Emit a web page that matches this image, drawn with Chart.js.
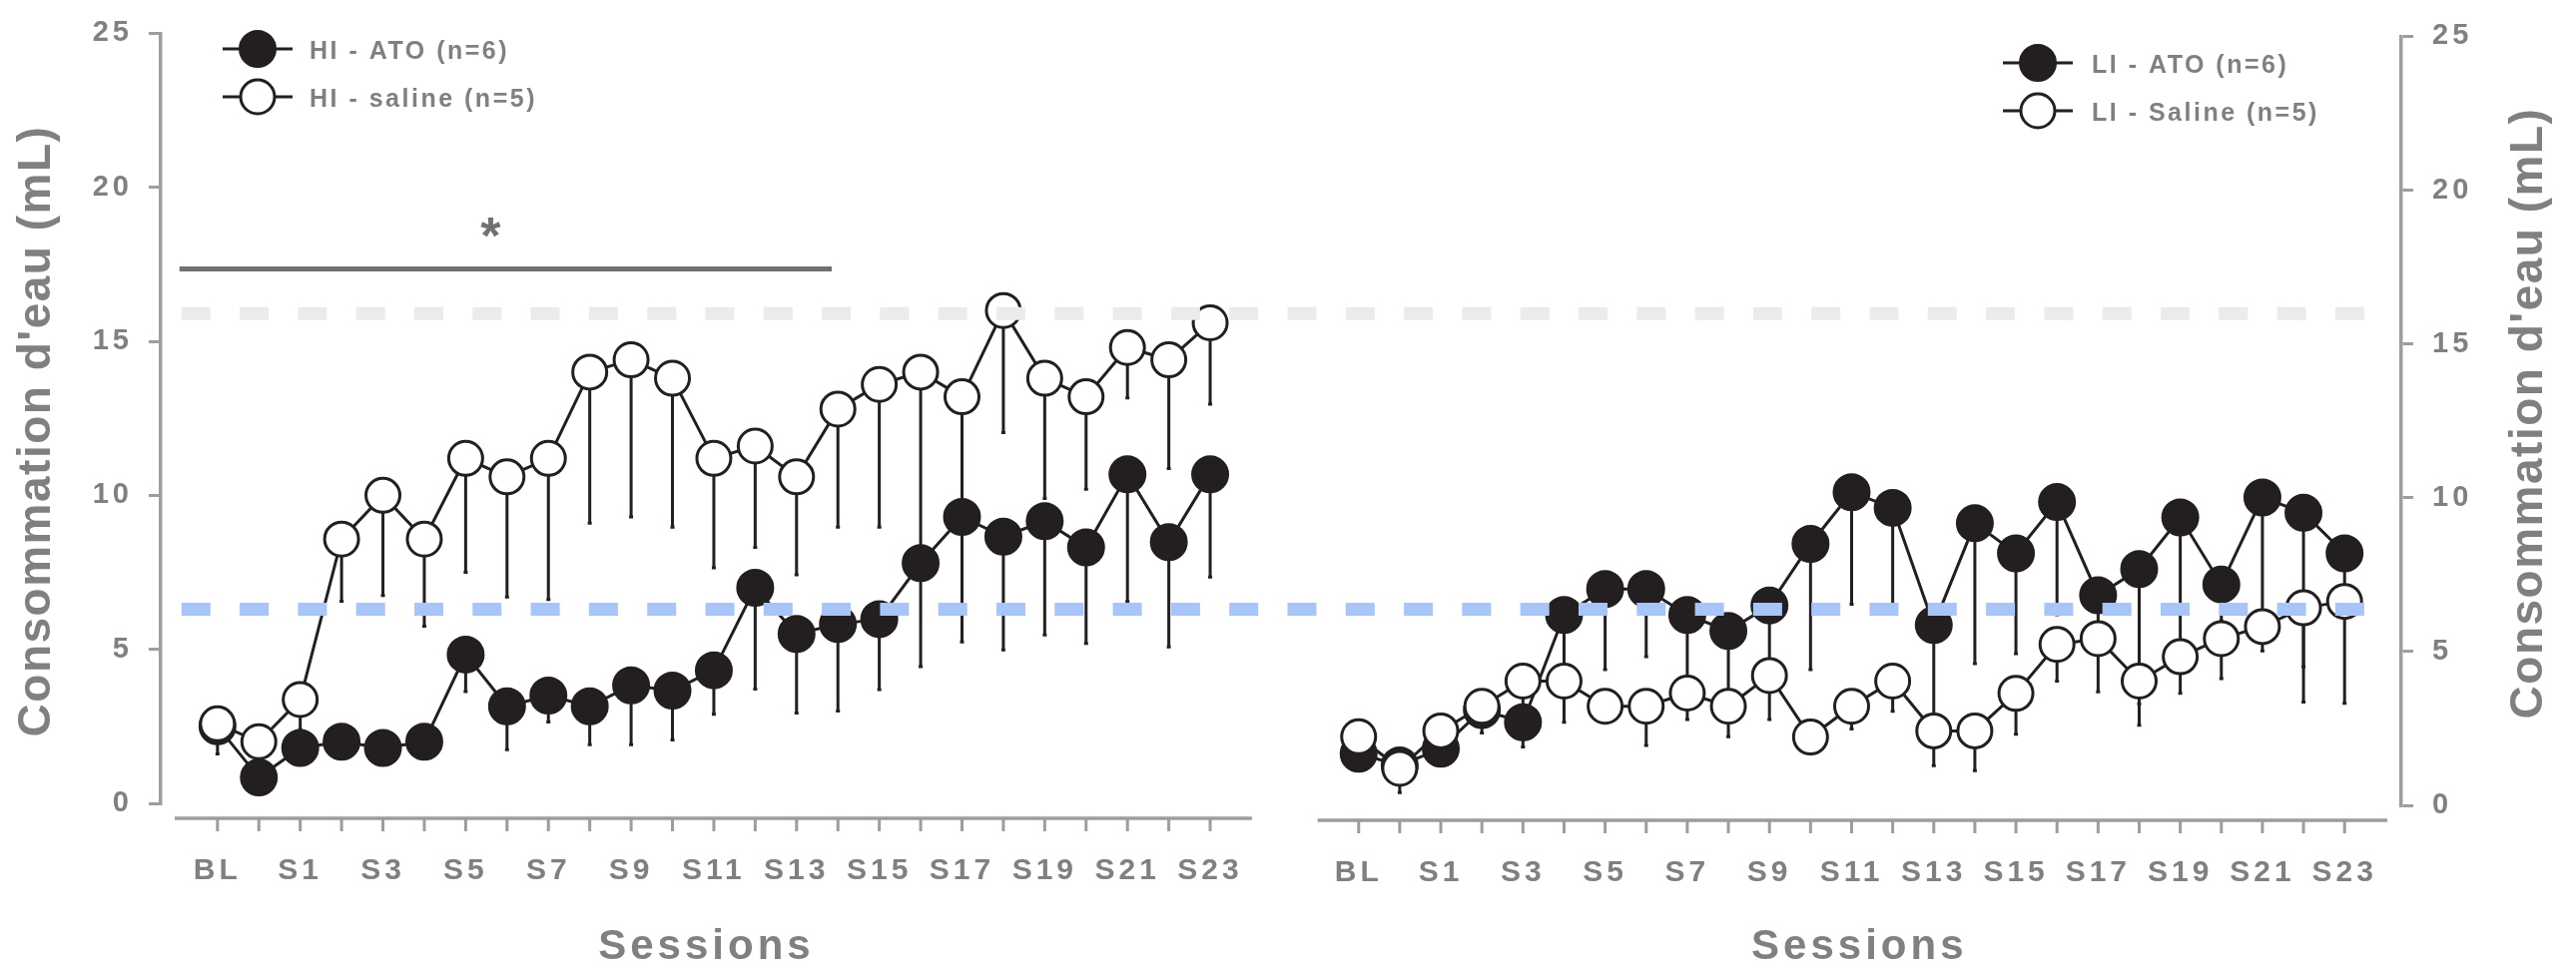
<!DOCTYPE html>
<html>
<head>
<meta charset="utf-8">
<title>Consommation d'eau</title>
<script src="https://cdn.jsdelivr.net/npm/chart.js@4.4.1/dist/chart.umd.min.js"></script>
<style>
  html, body { margin: 0; padding: 0; background: #ffffff; }
  #wrap { position: relative; width: 2580px; height: 970px; overflow: hidden; }
  #wrap canvas { position: absolute; top: 0; }
</style>
</head>
<body>
<div id="wrap">
  <canvas id="chartHI" width="1290" height="970" style="left:0"></canvas>
  <canvas id="chartLI" width="1290" height="970" style="left:1290px"></canvas>
</div>
<script>
// sessions (every other label is shown on the axis)
var sessions = ['BL', 'S0', 'S1', 'S2', 'S3', 'S4', 'S5', 'S6', 'S7', 'S8', 'S9', 'S10', 'S11',
                'S12', 'S13', 'S14', 'S15', 'S16', 'S17', 'S18', 'S19', 'S20', 'S21', 'S22', 'S23'];
var yTicks = [0, 5, 10, 15, 20, 25];

// HI groups: mean and lower end of the error bar (mL)
var hiAto        = [2.5, 0.84, 1.8, 2.0, 1.8, 2.0, 4.83, 3.15, 3.5, 3.15, 3.83, 3.66, 4.32, 7.0, 5.5, 5.82, 5.98, 7.8, 9.3, 8.66, 9.16, 8.31, 10.68, 8.48, 10.68];
var hiAtoLow     = [1.6, 0.84, 1.8, 2.0, 1.8, 2.0, 3.63, 1.74, 2.64, 1.9, 1.9, 2.06, 2.89, 3.71, 2.93, 3.0, 3.69, 4.44, 5.24, 4.98, 5.47, 5.19, 6.56, 5.08, 7.35];
var hiSaline     = [2.58, 2.0, 3.37, 8.58, 10.0, 8.58, 11.2, 10.6, 11.2, 14.0, 14.4, 13.8, 11.2, 11.6, 10.6, 12.8, 13.6, 14.0, 13.2, 16.0, 13.8, 13.2, 14.8, 14.4, 15.6];
var hiSalineLow  = [2.3, 1.5, 2.4, 6.56, 6.75, 5.75, 7.5, 6.7, 6.62, 9.1, 9.3, 8.97, 7.65, 8.31, 7.42, 8.97, 8.97, 8.2, 9.8, 12.04, 9.9, 10.2, 13.16, 10.87, 12.96];

// LI groups
var liAto        = [1.68, 1.3, 1.84, 3.1, 2.7, 6.19, 7.03, 7.03, 6.19, 5.67, 6.5, 8.5, 10.18, 9.67, 5.86, 9.17, 8.19, 9.86, 6.83, 7.68, 9.36, 7.18, 10.01, 9.51, 8.19];
var liAtoLow     = [1.68, 1.3, 1.84, 3.1, 1.9, 4.5, 4.41, 4.83, 4.0, 3.5, 4.5, 4.41, 6.54, 6.47, 2.9, 4.61, 4.93, 6.2, 5.5, 2.6, 5.0, 6.0, 6.3, 3.36, 6.8];
var liSaline     = [2.23, 1.2, 2.42, 3.22, 4.04, 4.04, 3.22, 3.22, 3.65, 3.22, 4.22, 2.22, 3.22, 4.04, 2.42, 2.42, 3.64, 5.23, 5.42, 4.04, 4.83, 5.42, 5.81, 6.42, 6.63];
var liSalineLow  = [2.23, 0.41, 2.42, 2.35, 3.2, 2.7, 3.22, 1.95, 2.79, 2.23, 2.79, 2.22, 2.48, 3.06, 1.29, 1.13, 2.31, 4.04, 3.69, 3.3, 3.64, 4.12, 5.02, 4.5, 3.32];

// reference levels and the significance bar (HI panel)
var refHigh = 15.9;
var refLow = 6.3;
var sigFrom = -0.92, sigTo = 14.85, sigLevel = 17.35, sigStarX = 6.6, sigStarLevel = 18.5;

var FONT = "'Liberation Sans', Arial, Helvetica, sans-serif";
var TEXT_GREY = '#808083';
var AXIS_GREY = '#9d9da0';
var INK = '#231f20';
var shared = {};   // reference line geometry shared between the two panels

function toPoints(values) {
    return values.map(function (v, i) { return { x: i, y: v }; });
}

function makeDataset(label, values, lower, filled) {
    return {
        label: label,
        data: toPoints(values),
        lower: lower,
        borderColor: INK,
        borderWidth: 3,
        pointRadius: filled ? 18 : 17,
        pointBorderWidth: filled ? 2 : 3,
        pointBackgroundColor: filled ? INK : '#ffffff',
        pointBorderColor: INK,
        tension: 0,
        fill: false,
        order: filled ? 1 : 0   // saline circles sit on top
    };
}

function dashedLine(ctx, x1, x2, y, color) {
    ctx.save();
    ctx.strokeStyle = color;
    ctx.lineWidth = 13;
    ctx.setLineDash([29, 29.3]);
    ctx.beginPath();
    ctx.moveTo(x1, y);
    ctx.lineTo(x2, y);
    ctx.stroke();
    ctx.restore();
}

var figurePlugin = {
    id: 'figure',
    beforeDraw: function (chart) {
        chart.ctx.letterSpacing = '4px';
    },
    beforeDatasetsDraw: function (chart) {
        // one-sided (downward) error bars
        var ctx = chart.ctx, y = chart.scales.y;
        ctx.save();
        ctx.strokeStyle = INK;
        ctx.lineWidth = 3;
        chart.data.datasets.forEach(function (ds, i) {
            chart.getDatasetMeta(i).data.forEach(function (pt, j) {
                var low = ds.lower[j];
                if (low >= ds.data[j].y) return;
                var yl = y.getPixelForValue(low);
                ctx.beginPath();
                ctx.moveTo(pt.x, pt.y);
                ctx.lineTo(pt.x, yl);
                ctx.moveTo(pt.x - 2, yl);
                ctx.lineTo(pt.x + 2, yl);
                ctx.stroke();
            });
        });
        ctx.restore();
    },
    afterDatasetsDraw: function (chart) {
        var ctx = chart.ctx, x = chart.scales.x, y = chart.scales.y;
        var p = chart.options.panel;
        if (p.refFrom !== null) {
            shared.start = x.getPixelForValue(p.refFrom) + p.offset;
            shared.yHigh = y.getPixelForValue(refHigh);
            shared.yLow = y.getPixelForValue(refLow);
        }
        var x1 = shared.start - p.offset;
        var x2 = p.refTo === null ? chart.width : x.getPixelForValue(p.refTo);
        dashedLine(ctx, x1, x2, shared.yHigh, '#ebebeb');
        dashedLine(ctx, x1, x2, shared.yLow, '#a7c5f9');
    },
    afterDraw: function (chart) {
        var ctx = chart.ctx, x = chart.scales.x, area = chart.chartArea;
        var p = chart.options.panel;
        ctx.save();
        ctx.letterSpacing = '0px';

        // detached x axis with tick marks
        var axisY = area.bottom + 15;
        ctx.strokeStyle = AXIS_GREY;
        ctx.lineWidth = 3.5;
        ctx.beginPath();
        ctx.moveTo(area.left + p.axisGapLeft, axisY);
        ctx.lineTo(area.right - p.axisGapRight, axisY);
        ctx.stroke();
        ctx.lineWidth = 3;
        ctx.beginPath();
        sessions.forEach(function (s, i) {
            var px = x.getPixelForValue(i);
            ctx.moveTo(px, axisY);
            ctx.lineTo(px, axisY + 13);
        });
        ctx.stroke();

        // significance bar and star
        if (p.showSig) {
            var y = chart.scales.y;
            ctx.strokeStyle = '#717173';
            ctx.lineWidth = 5;
            ctx.beginPath();
            ctx.moveTo(x.getPixelForValue(sigFrom), y.getPixelForValue(sigLevel));
            ctx.lineTo(x.getPixelForValue(sigTo), y.getPixelForValue(sigLevel));
            ctx.stroke();
            ctx.fillStyle = '#717173';
            ctx.font = 'bold 52px ' + FONT;
            ctx.textAlign = 'center';
            ctx.textBaseline = 'alphabetic';
            ctx.fillText('*', x.getPixelForValue(sigStarX), y.getPixelForValue(sigStarLevel) + 20);
        }

        // legend
        ctx.font = 'bold 25px ' + FONT;
        ctx.letterSpacing = '2.5px';
        ctx.textAlign = 'left';
        ctx.textBaseline = 'middle';
        chart.data.datasets.forEach(function (ds, i) {
            var cy = p.legend.y + i * p.legend.gap;
            var cx = p.legend.x;
            ctx.strokeStyle = INK;
            ctx.lineWidth = 3;
            ctx.beginPath();
            ctx.moveTo(cx - 35, cy);
            ctx.lineTo(cx + 35, cy);
            ctx.stroke();
            ctx.beginPath();
            ctx.arc(cx, cy, ds.pointRadius, 0, Math.PI * 2);
            ctx.fillStyle = ds.pointBackgroundColor;
            ctx.fill();
            ctx.lineWidth = ds.pointBorderWidth;
            ctx.stroke();
            ctx.fillStyle = TEXT_GREY;
            ctx.fillText(ds.label, p.legend.textX, cy + 3);
        });

        // y axis title
        ctx.translate(p.yTitle.x, p.yTitle.y);
        ctx.rotate(-Math.PI / 2);
        ctx.font = 'bold 46px ' + FONT;
        ctx.letterSpacing = '1.5px';
        ctx.textAlign = 'center';
        ctx.fillStyle = TEXT_GREY;
        ctx.fillText("Consommation d'eau (mL)", 0, 0);
        ctx.restore();
    }
};

function buildChart(canvasId, groups, panel) {
    var ctx = document.getElementById(canvasId).getContext('2d');
    return new Chart(ctx, {
        type: 'line',
        data: {
            datasets: [
                makeDataset(groups.atoLabel, groups.ato, groups.atoLow, true),
                makeDataset(groups.salineLabel, groups.saline, groups.salineLow, false)
            ]
        },
        options: {
            responsive: false,
            devicePixelRatio: 1,
            animation: false,
            events: [],
            panel: panel,
            layout: { padding: panel.padding },
            plugins: { legend: { display: false }, tooltip: { enabled: false } },
            scales: {
                x: {
                    type: 'linear',
                    min: panel.xMin,
                    max: panel.xMax,
                    grid: { display: false, drawTicks: false },
                    border: { display: false },
                    afterBuildTicks: function (scale) {
                        scale.ticks = sessions.map(function (s, i) { return { value: i }; });
                    },
                    afterFit: function (scale) { scale.height = panel.xHeight; },
                    ticks: {
                        autoSkip: false,
                        maxRotation: 0,
                        minRotation: 0,
                        padding: 50,
                        color: TEXT_GREY,
                        font: { family: FONT, size: 30, weight: 'bold' },
                        callback: function (value) { return value % 2 === 0 ? sessions[value] : ''; }
                    },
                    title: {
                        display: true,
                        text: 'Sessions',
                        color: TEXT_GREY,
                        padding: 0,
                        font: { family: FONT, size: 42, weight: 'bold', lineHeight: 1 }
                    }
                },
                y: {
                    position: panel.yPosition,
                    min: 0,
                    max: 25,
                    afterBuildTicks: function (scale) {
                        scale.ticks = yTicks.map(function (v) { return { value: v }; });
                    },
                    afterFit: function (scale) { scale.width = panel.yWidth; },
                    grid: { drawOnChartArea: false, tickLength: 12, lineWidth: 3, color: AXIS_GREY },
                    border: { display: true, color: AXIS_GREY, width: 3.5 },
                    ticks: {
                        padding: panel.yTickPadding,
                        color: TEXT_GREY,
                        font: { family: FONT, size: 29, weight: 'bold' }
                    }
                }
            }
        },
        plugins: [figurePlugin]
    });
}

buildChart('chartHI', {
    atoLabel: 'HI - ATO (n=6)', ato: hiAto, atoLow: hiAtoLow,
    salineLabel: 'HI - saline (n=5)', saline: hiSaline, salineLow: hiSalineLow
}, {
    offset: 0,
    padding: { top: 28, right: 33, bottom: 0, left: 0 },
    xMin: -1.372, xMax: 25.01, xHeight: 165,
    yPosition: 'left', yWidth: 161, yTickPadding: 16,
    axisGapLeft: 14, axisGapRight: 0,
    refFrom: -0.87, refTo: null,
    showSig: true,
    legend: { x: 258, y: 49, gap: 48, textX: 310 },
    yTitle: { x: 37, y: 432 }
});

buildChart('chartLI', {
    atoLabel: 'LI - ATO (n=6)', ato: liAto, atoLow: liAtoLow,
    salineLabel: 'LI - Saline (n=5)', saline: liSaline, salineLow: liSalineLow
}, {
    offset: 1290,
    padding: { top: 21, right: 0, bottom: 0, left: 8 },
    xMin: -1.0, xMax: 25.38, xHeight: 163,
    yPosition: 'right', yWidth: 175, yTickPadding: 19,
    axisGapLeft: 0, axisGapRight: 14,
    refFrom: null, refTo: 24.5,
    showSig: false,
    legend: { x: 751, y: 63, gap: 48, textX: 805 },
    yTitle: { x: 1243, y: 414 }
});
</script>
</body>
</html>
